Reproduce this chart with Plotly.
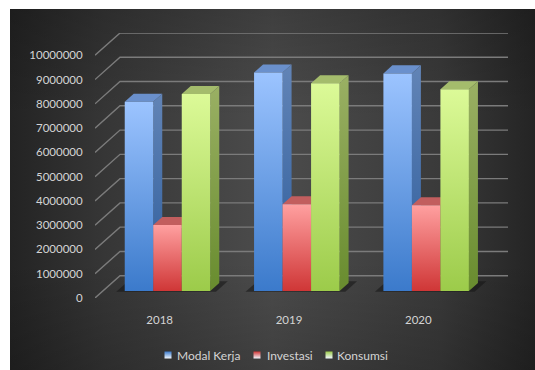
import plotly.graph_objects as go

# Chart data
years = ["2018", "2019", "2020"]
series_names = ["Modal Kerja", "Investasi", "Konsumsi"]
modal_kerja = [7800000, 9010000, 8970000]
investasi = [2720000, 3580000, 3540000]
konsumsi = [8120000, 8560000, 8320000]
value_ticks = [0, 1000000, 2000000, 3000000, 4000000, 5000000,
               6000000, 7000000, 8000000, 9000000, 10000000]

W, H = 535, 370
PLOT_L, PLOT_R, PLOT_T, PLOT_B = 95, 508, 33, 298

# Oblique projection: one unit of depth moves a point right and up
DEPTH_X = 25 / 129.3
DEPTH_Y = 918800
BAR_W = 0.2204
BAR_GAP = 0.17
BAR_D0, BAR_D1 = 0.31, 0.67

STYLES = [
    dict(front=("#9cc4ff", "#3b7acb"), side=("#6284b6", "#2c5c9c"), top="#6a90cc"),
    dict(front=("#ffa0a0", "#cf3636"), side=("#b06060", "#8a2c2c"), top="#c25e5e"),
    dict(front=("#dcfa98", "#9ccb4a"), side=("#9ab064", "#688c2e"), top="#a4bc6c"),
]


def project(x, value, depth):
    return x + depth * DEPTH_X, value + depth * DEPTH_Y


fig = go.Figure()


def polygon(points, colors=None, flat=None, axes=("x2", "y2"), gradient=None):
    xs = [p[0] for p in points] + [points[0][0]]
    ys = [p[1] for p in points] + [points[0][1]]
    if gradient:
        kw = dict(fillgradient=gradient)
    elif flat:
        kw = dict(fillcolor=flat)
    else:
        kw = dict(fillgradient=dict(type="vertical", colorscale=[[0, colors[1]], [1, colors[0]]]))
    fig.add_trace(go.Scatter(x=xs, y=ys, mode="lines", line=dict(width=0), fill="toself",
                             xaxis=axes[0], yaxis=axes[1], showlegend=False,
                             hoverinfo="skip", **kw))


# Charcoal panel behind the chart, on a page-sized pair of axes:
# a side-to-side falloff with a slight darkening towards top and bottom
panel = [(10, 9), (W, 9), (W, H), (10, H)]
polygon(panel, axes=("x", "y"), gradient=dict(
    type="horizontal",
    colorscale=[[0, "#232323"], [0.18, "#363636"], [0.5, "#4c4c4c"], [0.82, "#3a3a3a"], [1, "#242424"]]))
polygon(panel, axes=("x", "y"), gradient=dict(
    type="vertical",
    colorscale=[[0, "rgba(0,0,0,0.18)"], [0.3, "rgba(0,0,0,0)"],
                [0.7, "rgba(0,0,0,0)"], [1, "rgba(0,0,0,0.18)"]]))

# Gridlines: up the side wall, then along the back wall
for v in value_ticks:
    a = project(0, v, 0)
    b = project(0, v, 1)
    c = project(len(years), v, 1)
    fig.add_trace(go.Scatter(x=[a[0], b[0], c[0]], y=[a[1], b[1], c[1]], mode="lines",
                             line=dict(color="#7b7b7b", width=1.4),
                             xaxis="x2", yaxis="y2", showlegend=False, hoverinfo="skip"))

all_series = [modal_kerja, investasi, konsumsi]
for i in range(len(years)):
    x0 = i + BAR_GAP
    x1 = x0 + BAR_W * len(all_series)
    # Contact shadow on the floor
    polygon([project(x0 - 0.06, 0, BAR_D0 - 0.03), project(x1 + 0.05, 0, BAR_D0 - 0.03),
             project(x1 + 0.05, 0, BAR_D1 + 0.08), project(x0 - 0.06, 0, BAR_D1 + 0.08)],
            flat="rgba(20,20,20,0.55)")
    for s, values in enumerate(all_series):
        left = x0 + s * BAR_W
        right = left + BAR_W
        v = values[i]
        st = STYLES[s]
        polygon([project(right, 0, BAR_D0), project(right, 0, BAR_D1),
                 project(right, v, BAR_D1), project(right, v, BAR_D0)], colors=st["side"])
        polygon([project(left, v, BAR_D0), project(right, v, BAR_D0),
                 project(right, v, BAR_D1), project(left, v, BAR_D1)], flat=st["top"])
        polygon([project(left, 0, BAR_D0), project(right, 0, BAR_D0),
                 project(right, v, BAR_D0), project(left, v, BAR_D0)], colors=st["front"])

# Legend row: swatches and names
key_x = [168, 257, 329]
text_x = [176, 266, 336]
for name, st, kx, tx in zip(series_names, STYLES, key_x, text_x):
    fig.add_trace(go.Scatter(
        x=[kx], y=[355], mode="markers", xaxis="x", yaxis="y", showlegend=False, hoverinfo="skip",
        marker=dict(symbol="square", size=7, color=st["front"][1], line=dict(width=0),
                    gradient=dict(type="vertical", color="#f2f8ff"))))
    fig.add_annotation(x=tx, y=355, xref="x", yref="y", text=name, showarrow=False,
                       xanchor="left", yanchor="middle", xshift=-1,
                       font=dict(family="Lato", size=12, color="#d4d4d4"))

font = dict(family="Lato", size=11.5, color="#d4d4d4")
fig.update_layout(
    width=W, height=H, autosize=False,
    margin=dict(l=0, r=0, t=0, b=0, pad=0, autoexpand=False),
    paper_bgcolor="white", plot_bgcolor="rgba(0,0,0,0)",
    showlegend=False,
    xaxis=dict(domain=[0, 1], range=[0, W], visible=False, fixedrange=True, automargin=False),
    yaxis=dict(domain=[0, 1], range=[H, 0], visible=False, fixedrange=True, automargin=False),
    xaxis2=dict(domain=[PLOT_L / W, PLOT_R / W], range=[0, len(years) + DEPTH_X], anchor="y2",
                tickmode="array", tickvals=[i + 0.5 for i in range(len(years))], ticktext=years,
                showgrid=False, zeroline=False, showline=False, ticks="outside", ticklen=11,
                tickcolor="rgba(0,0,0,0)", tickfont=font, fixedrange=True, automargin=False),
    yaxis2=dict(domain=[(H - PLOT_B) / H, (H - PLOT_T) / H], range=[0, value_ticks[-1] + DEPTH_Y],
                anchor="x2", tickmode="array", tickvals=value_ticks,
                ticktext=[str(v) for v in value_ticks],
                showgrid=False, zeroline=False, showline=False, ticks="outside", ticklen=9,
                tickcolor="rgba(0,0,0,0)", tickfont=font, fixedrange=True, automargin=False),
)

fig.write_html("out.html", config=dict(displayModeBar=False))
